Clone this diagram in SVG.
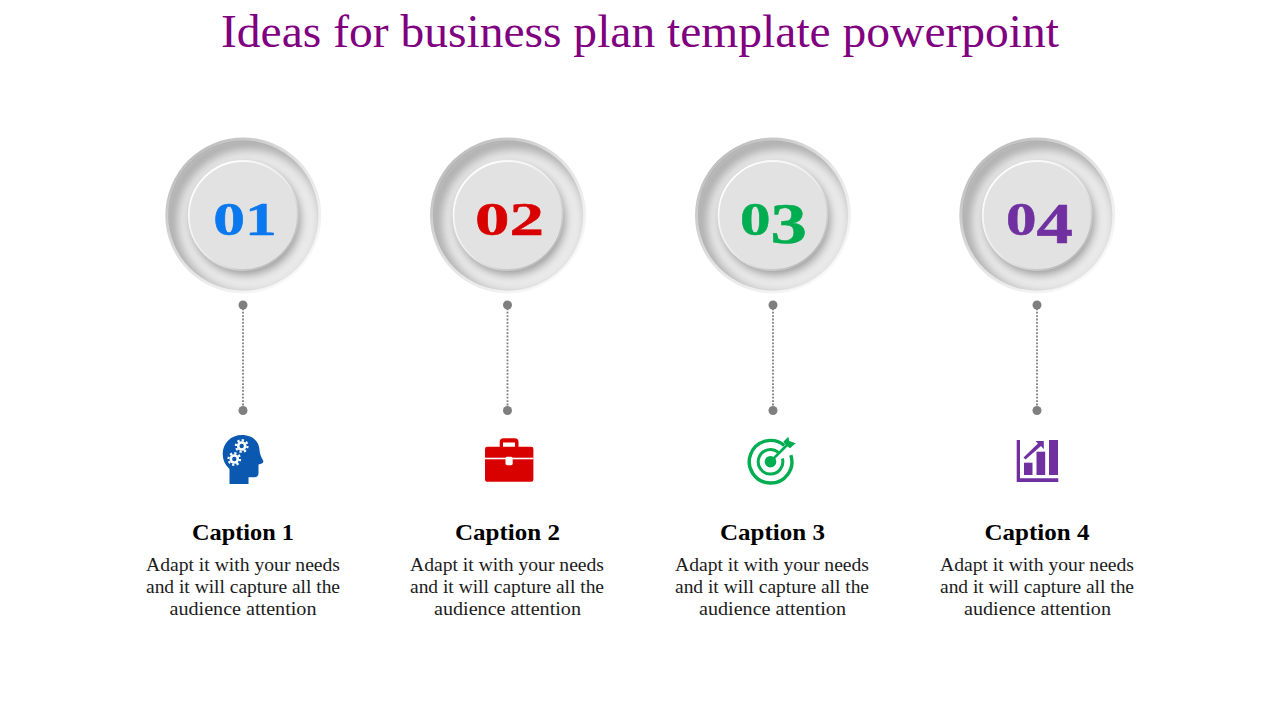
<svg xmlns="http://www.w3.org/2000/svg" xmlns:xlink="http://www.w3.org/1999/xlink" width="1280" height="720" viewBox="0 0 1280 720">
<style>
text{font-family:"Liberation Serif","Times New Roman",serif;text-anchor:middle}
.title{font-size:47px;fill:#800080}
.num{font-size:46px;font-weight:700;stroke-width:.5}
.cap{font-size:23px;font-weight:700;fill:#000}
.body{font-size:19.5px;fill:#1c1c1c}
.link{stroke:#7f7f7f;stroke-width:1.8;stroke-dasharray:1.8 1.6;fill:none}
.dot{fill:#7f7f7f}
</style>
<defs>
<linearGradient id="rim" x1="0.15" y1="0.1" x2="0.85" y2="0.9"><stop offset="0" stop-color="#bdbdbd"/><stop offset="0.5" stop-color="#e4e4e4"/><stop offset="1" stop-color="#fafafa"/></linearGradient>
<linearGradient id="edge" x1="0.15" y1="0.1" x2="0.85" y2="0.9"><stop offset="0" stop-color="#ffffff"/><stop offset="0.55" stop-color="#eaeaea"/><stop offset="1" stop-color="#b8b8b8"/></linearGradient>
<filter id="b6" x="-30%" y="-30%" width="160%" height="160%"><feGaussianBlur stdDeviation="6"/></filter>
<filter id="b3" x="-30%" y="-30%" width="160%" height="160%"><feGaussianBlur stdDeviation="5"/></filter>
<clipPath id="c"><circle r="75"/></clipPath>
<g id="badge">
<circle r="78" fill="url(#rim)"/>
<circle r="75" cx="0.500" cy="0.500" fill="#ebebeb"/>
<g clip-path="url(#c)">
<circle cx="6" cy="6" r="79" fill="none" stroke="#999" stroke-width="11" filter="url(#b6)"/>
<circle cx="2" cy="4" r="55" fill="#999" filter="url(#b3)"/>
</g>
<circle r="54.500" fill="#e2e2e2" stroke="url(#edge)" stroke-width="1.800"/>
</g>
<g id="gear"><circle r="4.800" fill="#fff"/><circle r="5.800" fill="none" stroke="#fff" stroke-width="2.200" pathLength="16" stroke-dasharray="1 1"/><circle r="2.200" fill="#0a58b0"/></g>
</defs>
<text class="title" x="640" y="47" textLength="838" lengthAdjust="spacingAndGlyphs">Ideas for business plan template powerpoint</text>
<g id="connectors">
<path class="link" d="M243 305V410M507.500 305V410M773 305V410M1037 305V410"/>
<g class="dot"><circle cx="243" cy="305" r="4.500"/><circle cx="243" cy="410.500" r="4.500"/><circle cx="507.500" cy="305" r="4.500"/><circle cx="507.500" cy="410.500" r="4.500"/><circle cx="773" cy="305" r="4.500"/><circle cx="773" cy="410.500" r="4.500"/><circle cx="1037" cy="305" r="4.500"/><circle cx="1037" cy="410.500" r="4.500"/></g>
</g>
<g id="node1">
<use href="#badge" xlink:href="#badge" x="243.300" y="215.500"/>
<text class="num" fill="#0a78ee" stroke="#0a78ee" transform="translate(245 235) scale(1.38 1)">01</text>
<g id="icon1"><path fill="#0a58b0" d="M229.500 484V469C225 465 222.700 460 222.700 454C222.700 443 231 435 242 435C252 435 259 441 259.500 450C259.800 453 260.500 456 263.300 461C263.800 463 261 464 258.500 464.500V473C258.500 476 257 477.200 254 477.200H248.500V484Z"/><use href="#gear" xlink:href="#gear" x="241.700" y="446"/><use href="#gear" xlink:href="#gear" x="234.300" y="459"/></g>
<text class="cap" x="243" y="540" textLength="102" lengthAdjust="spacingAndGlyphs">Caption 1</text>
<text class="body" x="243" y="571" textLength="194" lengthAdjust="spacingAndGlyphs">Adapt it with your needs</text>
<text class="body" x="243" y="593" textLength="194" lengthAdjust="spacingAndGlyphs">and it will capture all the</text>
<text class="body" x="243" y="615" textLength="147" lengthAdjust="spacingAndGlyphs">audience attention</text>
</g>
<g id="node2">
<use href="#badge" xlink:href="#badge" x="508" y="215.500"/>
<text class="num" fill="#d90000" stroke="#d90000" transform="translate(509.500 235) scale(1.5 1)">02</text>
<g id="icon2"><path fill="#d90000" d="M499.700 447V442C499.700 439.500 501 438.300 503.500 438.300H514.700C517.200 438.300 518.500 439.500 518.500 442V447H515V442.500H503V447Z"/><rect x="485" y="446.700" width="48.400" height="35" rx="2.200" fill="#d90000"/><rect x="485" y="457.700" width="48.400" height="1.600" fill="#fff"/><rect x="505.500" y="456.800" width="7.200" height="8.400" rx="1.600" fill="#fff"/></g>
<text class="cap" x="507.500" y="540" textLength="105" lengthAdjust="spacingAndGlyphs">Caption 2</text>
<text class="body" x="507" y="571" textLength="194" lengthAdjust="spacingAndGlyphs">Adapt it with your needs</text>
<text class="body" x="507" y="593" textLength="194" lengthAdjust="spacingAndGlyphs">and it will capture all the</text>
<text class="body" x="507.500" y="615" textLength="147" lengthAdjust="spacingAndGlyphs">audience attention</text>
</g>
<g id="node3">
<use href="#badge" xlink:href="#badge" x="773" y="215.500"/>
<text class="num" fill="#00ad50" stroke="#00ad50" transform="translate(773.500 235) scale(1.3 1)"><tspan font-size="47">0</tspan><tspan font-size="56" dy="8">3</tspan></text>
<g id="icon3"><path fill="none" stroke="#00ad50" stroke-width="3.400" d="M784.200 445.400A21.300 21.300 0 1 0 790.800 455.100"/><path fill="none" stroke="#00ad50" stroke-width="3" d="M778.400 452.300A12.300 12.300 0 1 0 782.400 458.500"/><circle cx="770.500" cy="461.700" r="5.800" fill="#00ad50"/><path stroke="#00ad50" stroke-width="2.600" d="M771 461.200L787 445"/><path fill="#00ad50" d="M783.300 441.700L788.300 436.700L789.300 441L795.700 443.300L790 448.300L786.700 445.700Z"/></g>
<text class="cap" x="772.500" y="540" textLength="105" lengthAdjust="spacingAndGlyphs">Caption 3</text>
<text class="body" x="772" y="571" textLength="194" lengthAdjust="spacingAndGlyphs">Adapt it with your needs</text>
<text class="body" x="772" y="593" textLength="194" lengthAdjust="spacingAndGlyphs">and it will capture all the</text>
<text class="body" x="772.500" y="615" textLength="147" lengthAdjust="spacingAndGlyphs">audience attention</text>
</g>
<g id="node4">
<use href="#badge" xlink:href="#badge" x="1037.300" y="215.500"/>
<text class="num" fill="#7030a0" stroke="#7030a0" transform="translate(1039.500 235) scale(1.3 1)"><tspan font-size="47">0</tspan><tspan font-size="56" dy="8">4</tspan></text>
<g id="icon4" fill="#7030a0"><path d="M1016.700 440H1020V478.300H1058.300V482H1016.700Z"/><rect x="1024" y="462.700" width="8.500" height="12.300"/><rect x="1036.500" y="451.700" width="8.700" height="23.300"/><rect x="1049" y="440" width="9" height="35"/><path d="M1023.500 457.500L1038 443.500L1035.500 441H1043.800V449.300L1041 446L1025.500 459.500Z"/></g>
<text class="cap" x="1037" y="540" textLength="105" lengthAdjust="spacingAndGlyphs">Caption 4</text>
<text class="body" x="1037" y="571" textLength="194" lengthAdjust="spacingAndGlyphs">Adapt it with your needs</text>
<text class="body" x="1037" y="593" textLength="194" lengthAdjust="spacingAndGlyphs">and it will capture all the</text>
<text class="body" x="1037.500" y="615" textLength="147" lengthAdjust="spacingAndGlyphs">audience attention</text>
</g>
</svg>
